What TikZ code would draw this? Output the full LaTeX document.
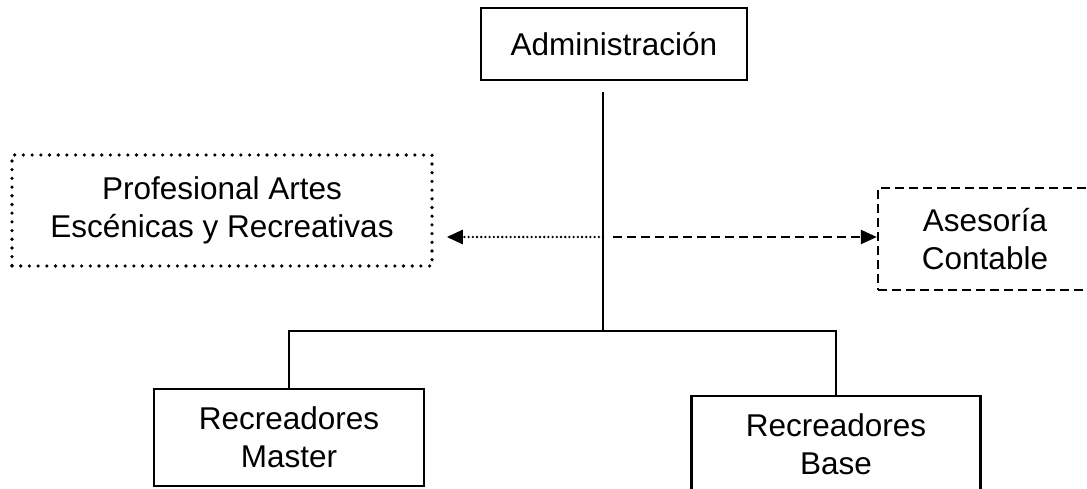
\documentclass[tikz,border=0pt]{standalone}
\usepackage{fontspec}
\setmainfont{Liberation Sans}
\usetikzlibrary{arrows.meta}
\tikzset{
  unit/.style={draw, line width=2.2pt, align=center, inner sep=0pt,
    font=\fontsize{31.5}{38}\selectfont},
  dotline/.style={line width=3.6pt, line cap=round, dash pattern=on 0pt off 8.7pt},
  dashline/.style={line width=2.4pt, dash pattern=on 9pt off 5pt},
  tip/.style={-{Triangle[length=16pt,width=14pt]}}
}

\begin{document}
\begin{tikzpicture}[x=1pt,y=-1pt]
      \clip (0,0) rectangle (1087,489);
      \node[unit, minimum width=266pt, minimum height=72pt] (admin) at (614,44) {Administraci\'on};
      \node[unit, dotline, minimum width=420pt, minimum height=111pt] (prof) at (222,210.5)
        {Profesional Artes\\Esc\'enicas y Recreativas};
      \node[unit, dashline, minimum width=214pt, minimum height=102pt] (ases) at (985,239)
        {Asesor\'ia\\Contable};
      \node[unit, minimum width=270pt, minimum height=97pt] (master) at (289,437.5)
        {Recreadores\\Master};
      \node[unit, minimum width=289pt, minimum height=96pt] (base) at (836,444)
        {Recreadores\\Base};
      \coordinate (top) at (603,92);
      \coordinate (mid) at (603,237);
      \coordinate (fork) at (603,331);
      % linea central
      \draw[line width=2.2pt] (top) -- (fork);
      \draw[line width=2.2pt] (master.north) |- (fork) -| (base.north);
      % asesorias
      \draw[tip, line width=2.6pt, dash pattern=on 0pt off 4.2pt, line cap=round, shorten >=13pt]
        (mid) -- (mid -| prof.east);
      \draw[tip, dashline, shorten <=10pt] (mid) -- (mid -| ases.west);
    \end{tikzpicture}
\end{document}
